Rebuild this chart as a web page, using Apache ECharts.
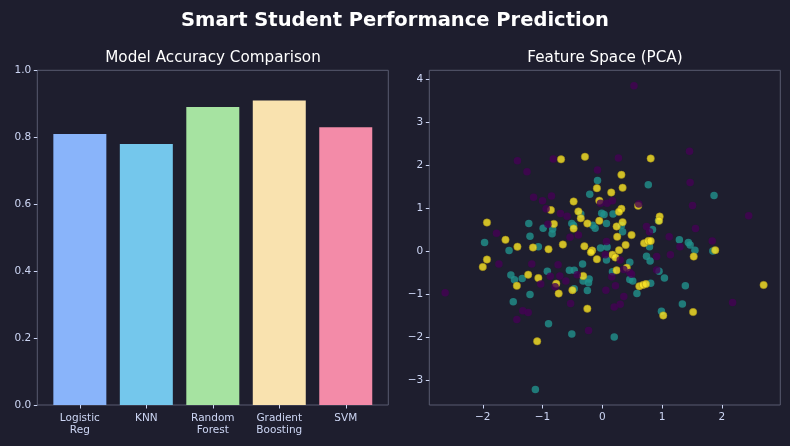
<!DOCTYPE html>
<html>
<head>
<meta charset="utf-8">
<script src="https://cdn.jsdelivr.net/npm/echarts@6/dist/echarts.min.js"></script>
<style>
  html, body { margin: 0; padding: 0; background: #1e1e2e; }
  #chart { width: 790px; height: 446px; }
</style>
</head>
<body>
<div id="chart"></div>
<script>
// model accuracy
const models = ['Logistic\nReg', 'KNN', 'Random\nForest', 'Gradient\nBoosting', 'SVM']
const accuracy = [0.81, 0.78, 0.89, 0.91, 0.83]
const barColors = ['#89b4fa', '#74c7ec', '#a6e3a1', '#f9e2af', '#f38ba8']

// PCA points, one list per class
const classA = [
  [0.53, 3.84], [-1.42, 2.10], [-1.26, 1.84], [-0.82, 2.14], [0.27, 2.16], [1.46, 2.32],
  [-0.08, 1.88], [1.47, 1.59], [-1.15, 1.25], [-1.00, 1.17], [-0.85, 1.28], [-0.94, 0.98],
  [-0.70, 0.87], [-0.59, 0.81], [-0.03, 1.11], [0.08, 1.11], [0.17, 1.17], [1.51, 1.06],
  [2.45, 0.82], [1.56, 0.52], [1.84, 0.23], [1.12, 0.33], [0.74, 0.57], [0.79, 0.45],
  [1.30, 0.10], [0.07, 0.22], [-0.40, 0.37], [-0.54, 0.32], [-0.91, 0.62], [-1.77, 0.41],
  [-1.73, -0.30], [-1.18, -0.30], [-0.74, -0.32], [-0.42, -0.55], [-0.87, -0.59], [-0.71, -0.58],
  [-0.61, -0.70], [-1.03, -0.77], [-0.79, -0.83], [-0.53, -1.22], [-1.33, -1.39], [-1.24, -1.43],
  [-1.43, -1.59], [-2.63, -0.97], [-0.23, -1.85], [0.20, -1.30], [0.30, -1.24], [0.36, -1.06],
  [0.06, -0.91], [0.22, -0.81], [0.36, -0.43], [0.46, -0.50], [0.49, -0.54], [0.16, -0.60],
  [0.05, -0.09], [0.30, -0.21], [0.91, -0.13], [1.14, -0.09], [0.91, -0.44], [2.18, -1.20],
  [0.61, 1.09]
]
const classB = [
  [-0.08, 1.64], [0.77, 1.54], [1.87, 1.29], [-0.21, 1.32], [-0.36, 0.86], [-1.23, 0.64],
  [-0.99, 0.53], [-0.83, 0.51], [-0.84, 0.40], [-0.51, 0.64], [-0.48, 0.59], [-1.21, 0.34],
  [-1.97, 0.20], [-1.56, 0.01], [-1.07, 0.10], [-0.01, 0.88], [0.03, 0.85], [0.18, 0.86],
  [-0.16, 0.60], [-0.12, 0.53], [0.07, 0.64], [0.32, 0.59], [0.34, 0.45], [0.84, 0.50],
  [0.94, 0.70], [1.29, 0.26], [1.44, 0.20], [1.55, 0.02], [1.85, 0.00], [-0.03, 0.07],
  [0.08, 0.09], [0.79, 0.10], [1.47, 0.14], [0.07, -0.21], [0.46, -0.26], [0.74, -0.12],
  [0.80, -0.23], [-0.33, -0.30], [-0.92, -0.47], [-0.55, -0.45], [-0.47, -0.45], [-1.53, -0.56],
  [-1.47, -0.67], [-1.34, -0.64], [-0.32, -0.70], [-0.23, -0.74], [-0.47, -0.88], [-0.25, -0.92],
  [0.17, -0.48], [0.46, -0.66], [0.51, -0.70], [0.81, -0.75], [0.95, -0.47], [1.04, -0.63],
  [1.39, -0.81], [0.58, -0.99], [-1.21, -1.01], [-1.49, -1.18], [-0.90, -1.69], [-0.51, -1.93],
  [0.20, -2.00], [0.99, -1.40], [1.34, -1.23], [-1.12, -3.22], [-0.22, -0.65]
]
const classC = [
  [-0.69, 2.13], [-0.29, 2.19], [0.81, 2.15], [0.32, 1.77], [-0.09, 1.46], [0.34, 1.47],
  [0.15, 1.36], [-0.05, 1.17], [0.60, 1.05], [-0.48, 1.15], [-0.86, 0.95], [0.32, 0.98],
  [0.28, 0.91], [-0.40, 0.92], [-0.36, 0.76], [0.96, 0.80], [0.95, 0.70], [-0.05, 0.70],
  [-0.25, 0.64], [-0.48, 0.52], [-0.81, 0.63], [0.24, 0.57], [0.34, 0.67], [-1.93, 0.66],
  [-1.62, 0.26], [-1.42, 0.10], [-1.16, 0.08], [-0.90, 0.04], [-0.66, 0.15], [-0.30, 0.11],
  [0.25, 0.33], [0.49, 0.37], [0.70, 0.18], [0.77, 0.23], [0.81, 0.23], [0.39, 0.14],
  [-0.17, 0.01], [-0.19, -0.03], [0.17, -0.09], [0.22, -0.15], [0.28, 0.02], [1.53, -0.13],
  [1.89, 0.02], [-1.93, -0.20], [-2.00, -0.37], [-1.24, -0.55], [-1.07, -0.63], [-0.32, -0.58],
  [-0.77, -0.76], [-1.43, -0.81], [-0.50, -0.91], [-0.73, -0.99], [0.24, -0.45], [0.41, -0.39],
  [0.62, -0.82], [0.68, -0.79], [0.73, -0.77], [-0.25, -1.34], [1.02, -1.50], [1.52, -1.42],
  [2.70, -0.79], [-1.09, -2.10], [-0.09, -0.19]
]
const pcaXTicks = [-2, -1, 0, 1, 2]
const pcaYTicks = [-3, -2, -1, 0, 1, 2, 3, 4]

const textColor = '#cdd6f4'
const frameColor = '#585b70'
const fmtMinus = v => (v < 0 ? '\u2212' + Math.abs(v) : String(v))

const chartRef = document.getElementById('chart')
const chartInstance = echarts.init(chartRef, null, { renderer: 'canvas' })

const tickStyle = {
  show: true, inside: false, length: 3.5,
  lineStyle: { color: textColor, width: 1 }
}
const labelStyle = {
  color: textColor, fontSize: 10.5, fontFamily: 'DejaVu Sans'
}
// hide axis lines, keep them on the frame edge (not at zero)
const noLine = { show: false, onZero: false }

const chartOption = {
  backgroundColor: '#1e1e2e',
  animation: false,
  textStyle: { fontFamily: 'DejaVu Sans' },
  title: [
    {
      text: 'Smart Student Performance Prediction',
      left: 395, top: 11, textAlign: 'center', padding: 0,
      textStyle: { color: '#ffffff', fontSize: 19.5, fontWeight: 'bold', fontFamily: 'DejaVu Sans' }
    },
    {
      text: 'Model Accuracy Comparison',
      left: 213, top: 51, textAlign: 'center', padding: 0,
      textStyle: { color: '#ffffff', fontSize: 15.2, fontWeight: 'normal', fontFamily: 'DejaVu Sans' }
    },
    {
      text: 'Feature Space (PCA)',
      left: 605, top: 51, textAlign: 'center', padding: 0,
      textStyle: { color: '#ffffff', fontSize: 15.2, fontWeight: 'normal', fontFamily: 'DejaVu Sans' }
    }
  ],
  grid: [
    { left: 37.3, top: 70.3, width: 351, height: 334.7, show: true, borderColor: frameColor, borderWidth: 1, backgroundColor: 'transparent' },
    { left: 429.3, top: 70.3, width: 351, height: 334.7, show: true, borderColor: frameColor, borderWidth: 1, backgroundColor: 'transparent' }
  ],
  xAxis: [
    {
      gridIndex: 0, type: 'value', min: -0.64, max: 4.64,
      splitLine: { show: false }, axisLine: noLine,
      axisTick: Object.assign({ customValues: [0, 1, 2, 3, 4] }, tickStyle),
      axisLabel: Object.assign({
        customValues: [0, 1, 2, 3, 4], margin: 7, lineHeight: 12,
        formatter: v => models[Math.round(v)]
      }, labelStyle)
    },
    {
      gridIndex: 1, type: 'value', min: -2.895, max: 2.979,
      splitLine: { show: false }, axisLine: noLine,
      axisTick: Object.assign({ customValues: pcaXTicks }, tickStyle),
      axisLabel: Object.assign({ customValues: pcaXTicks, margin: 7, formatter: fmtMinus }, labelStyle)
    }
  ],
  yAxis: [
    {
      gridIndex: 0, type: 'value', min: 0, max: 1, interval: 0.2,
      splitLine: { show: false }, axisLine: noLine,
      axisTick: tickStyle,
      axisLabel: Object.assign({ margin: 6, formatter: v => v.toFixed(1) }, labelStyle)
    },
    {
      gridIndex: 1, type: 'value', min: -3.58, max: 4.20,
      splitLine: { show: false }, axisLine: noLine,
      axisTick: Object.assign({ customValues: pcaYTicks }, tickStyle),
      axisLabel: Object.assign({ customValues: pcaYTicks, margin: 6, formatter: fmtMinus }, labelStyle)
    }
  ],
  series: [
    {
      type: 'bar', xAxisIndex: 0, yAxisIndex: 0, barWidth: 53,
      data: accuracy.map((a, i) => ({ value: [i, a], itemStyle: { color: barColors[i] } }))
    },
    {
      type: 'scatter', xAxisIndex: 1, yAxisIndex: 1, symbolSize: 7.5,
      itemStyle: { color: '#21918c', opacity: 0.8 }, data: classB
    },
    {
      type: 'scatter', xAxisIndex: 1, yAxisIndex: 1, symbolSize: 7.5,
      itemStyle: { color: '#fde725', opacity: 0.8, borderColor: 'rgba(150,130,20,0.6)', borderWidth: 1 }, data: classC
    },
    {
      type: 'scatter', xAxisIndex: 1, yAxisIndex: 1, symbolSize: 7.5,
      itemStyle: { color: '#440154', opacity: 0.8 }, data: classA
    }
  ]
}
chartInstance.setOption(chartOption)

window.addEventListener('resize', function () {
  chartInstance.resize()
})
</script>
</body>
</html>
